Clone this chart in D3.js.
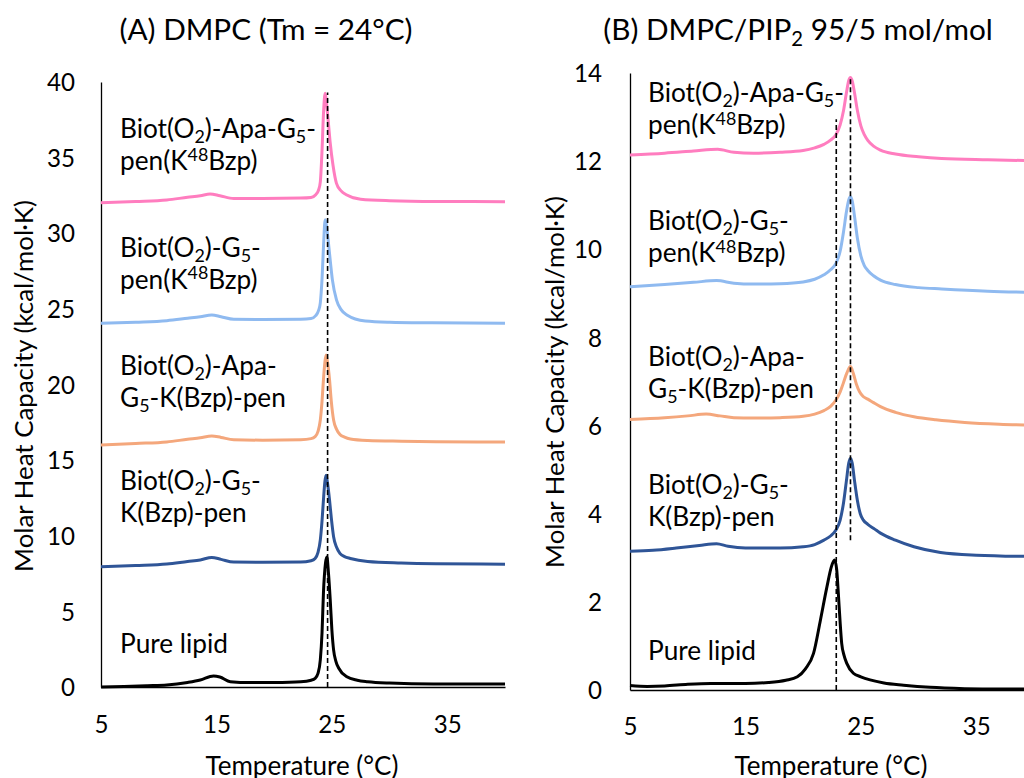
<!DOCTYPE html>
<html><head><meta charset="utf-8">
<script src="https://cdn.jsdelivr.net/npm/d3@7"></script>
<style>html,body{margin:0;padding:0;background:#fff;overflow:hidden}</style>
</head><body>
<svg id="chart" width="1024" height="778"></svg>
<script>
// ---------------- data ----------------
const temperatureTicks = [5, 15, 25, 35];
const aCpTicks = [0, 5, 10, 15, 20, 25, 30, 35, 40];
const bCpTicks = [0, 2, 4, 6, 8, 10, 12, 14];

// Panel A: DMPC  [temperature °C, molar heat capacity kcal/mol·K]
const aPureLipid = [[5,0],[7,0.03],[9,0.08],[10.7,0.13],[12.5,0.3],[13.6,0.46],[14.75,0.73],[15.3,0.66],[16.2,0.35],[17.9,0.29],[20,0.3],[22.3,0.35],[23.2,0.45],[23.55,0.57],[23.8,0.9],[24.0,1.8],[24.15,3.6],[24.27,6.2],[24.45,8.2],[24.57,8.6],[24.7,7.6],[24.86,5.75],[25.0,3.8],[25.15,2.45],[25.35,1.7],[25.6,1.24],[26.3,0.68],[27.2,0.45],[28.1,0.35],[30,0.26],[33.8,0.2],[40,0.2]];
const aG5KBzp = [[5,7.95],[8,8.03],[10.7,8.13],[12.5,8.3],[13.6,8.4],[14.6,8.57],[15.4,8.44],[16.5,8.26],[19,8.25],[22.3,8.26],[23.2,8.35],[23.55,8.5],[23.8,8.9],[24.0,9.72],[24.15,11.0],[24.27,12.36],[24.4,13.6],[24.5,14.0],[24.62,13.5],[24.8,12.36],[24.95,11.2],[25.15,9.94],[25.4,9.25],[25.7,8.84],[26.1,8.62],[26.6,8.5],[28.1,8.3],[31,8.2],[34,8.15],[40,8.12]];
const aApaG5KBzp = [[5,16.0],[8,16.1],[10.7,16.2],[12.5,16.38],[13.6,16.48],[14.6,16.6],[15.4,16.5],[16.5,16.35],[19,16.32],[22.3,16.35],[23.2,16.42],[23.55,16.55],[23.8,16.9],[24.0,17.65],[24.15,18.9],[24.27,20.3],[24.4,21.5],[24.5,21.95],[24.62,21.5],[24.8,20.3],[24.95,18.9],[25.15,17.65],[25.4,17.05],[25.7,16.7],[26.1,16.52],[26.6,16.4],[28.1,16.3],[31,16.25],[34,16.22],[40,16.2]];
const aG5penK48Bzp = [[5,24.05],[8,24.12],[10.7,24.22],[12.5,24.38],[13.6,24.48],[14.6,24.6],[15.4,24.48],[16.5,24.31],[19,24.3],[22.3,24.32],[23.2,24.36],[23.6,24.55],[23.85,24.9],[24.0,25.4],[24.15,27.0],[24.28,29.2],[24.42,30.9],[24.55,30.4],[24.7,29.4],[24.86,28.2],[25.05,26.9],[25.4,25.6],[25.8,24.95],[26.3,24.6],[27.9,24.2],[30,24.12],[33.7,24.08],[40,24.05]];
const aApaG5penK48Bzp = [[5,32.02],[8,32.1],[10.7,32.2],[12.5,32.38],[13.6,32.48],[14.45,32.6],[15.3,32.48],[16.5,32.3],[19,32.3],[22.3,32.33],[23.2,32.37],[23.6,32.55],[23.85,32.86],[24.0,33.4],[24.15,35.5],[24.28,38.0],[24.42,39.25],[24.55,38.5],[24.7,37.3],[24.86,35.95],[25.1,34.5],[25.4,33.3],[25.8,32.8],[26.3,32.53],[27.5,32.25],[30,32.15],[34,32.1],[40,32.09]];

// Panel B: DMPC/PIP2 95/5
const bPureLipid = [[5,0.1],[6.5,0.08],[8,0.09],[10,0.13],[12,0.15],[15,0.15],[17,0.17],[18.5,0.22],[19.5,0.3],[20.2,0.48],[20.9,0.83],[21.5,1.59],[22.06,2.34],[22.45,2.8],[22.72,2.95],[22.9,2.75],[23.05,2.19],[23.2,1.55],[23.34,1.06],[23.55,0.78],[23.77,0.61],[24.35,0.38],[25.0,0.3],[25.8,0.23],[27,0.16],[28.7,0.11],[31,0.06],[34,0.03],[37,0.02],[40,0.02]];
const bG5KBzp = [[5,3.15],[7,3.17],[9,3.22],[11,3.28],[12.5,3.32],[13.5,3.26],[15,3.22],[18,3.22],[20,3.25],[21,3.3],[21.8,3.4],[22.4,3.5],[22.84,3.63],[23.2,3.85],[23.5,4.25],[23.75,4.75],[23.95,5.15],[24.1,5.26],[24.25,5.15],[24.45,4.75],[24.7,4.3],[24.95,4.0],[25.2,3.86],[25.6,3.76],[26.2,3.65],[26.7,3.56],[28,3.4],[29.6,3.25],[31.9,3.12],[35,3.06],[40,3.03]];
const bApaG5KBzp = [[5,6.14],[8,6.18],[10,6.22],[11.6,6.26],[12.8,6.22],[14,6.18],[15.7,6.17],[18,6.18],[20,6.21],[21,6.26],[21.8,6.34],[22.4,6.44],[22.84,6.58],[23.2,6.76],[23.5,6.98],[23.8,7.2],[24.1,7.34],[24.35,7.18],[24.6,6.95],[24.9,6.76],[25.2,6.66],[25.6,6.6],[26.1,6.52],[26.7,6.43],[28,6.3],[29.6,6.2],[31.5,6.13],[34,6.07],[37,6.03],[40,6.01]];
const bG5penK48Bzp = [[5,9.15],[8,9.2],[10.5,9.25],[12.5,9.29],[14,9.23],[15.7,9.21],[18,9.22],[20,9.26],[21,9.32],[21.8,9.42],[22.4,9.54],[22.84,9.68],[23.2,9.95],[23.5,10.4],[23.75,10.85],[23.95,11.12],[24.1,11.19],[24.25,11.1],[24.45,10.75],[24.7,10.25],[25.0,9.85],[25.3,9.63],[25.6,9.52],[26.1,9.4],[26.7,9.3],[28,9.2],[30,9.13],[32,9.1],[36,9.05],[40,9.02]];
const bApaG5penK48Bzp = [[5,12.14],[8,12.18],[10.5,12.23],[12.6,12.27],[14,12.2],[15.7,12.18],[18,12.2],[20,12.24],[21,12.3],[21.8,12.38],[22.4,12.48],[22.84,12.6],[23.2,12.82],[23.5,13.15],[23.75,13.55],[23.95,13.83],[24.1,13.9],[24.25,13.82],[24.45,13.55],[24.7,13.15],[25.0,12.8],[25.3,12.6],[25.6,12.47],[26.1,12.34],[26.7,12.25],[28,12.16],[30,12.1],[32,12.06],[36,12.03],[40,12.01]];

// Tm reference (dashed) lines: [temperature, from Cp, to Cp]
const aTmLines = [[24.63, 0, 39.3]];
const bTmLines = [[22.87, 0, 12.95], [24.1, 3.4, 13.9]];

// Label texts: segments [text, kind]
const labelApaPen = [[["Biot(O"],["2","sub"],[")-Apa-G"],["5","sub"],["-"]],[["pen(K"],["48","sup"],["Bzp)"]]];
const labelG5Pen = [[["Biot(O"],["2","sub"],[")-G"],["5","sub"],["-"]],[["pen(K"],["48","sup"],["Bzp)"]]];
const labelApaK = [[["Biot(O"],["2","sub"],[")-Apa-"]],[["G"],["5","sub"],["-K(Bzp)-pen"]]];
const labelG5K = [[["Biot(O"],["2","sub"],[")-G"],["5","sub"],["-"]],[["K(Bzp)-pen"]]];
const labelPure = [[["Pure lipid"]]];

// ---------------- drawing ----------------
const FONT = "Lato, 'Open Sans', 'DejaVu Sans', sans-serif";
const svg = d3.select("#chart");

function sizeFor(text, targetWidth) {
  const t = svg.append("text").attr("font-family", FONT).attr("font-size", 100).text(text);
  const w = t.node().getComputedTextLength();
  t.remove();
  return 100 * targetWidth / w;
}
const labelFs = sizeFor("Pure lipid", 108);
const titleFs = sizeFor("(A) DMPC (Tm = 24°C)", 293);
const tickFs = Math.min(sizeFor("35", 28), labelFs);
const yTitleFs = sizeFor("Molar Heat Capacity (kcal/mol·K)", 372);
const xTitleFs = sizeFor("Temperature (°C)", 193);

const colors = {pure: "#000000", g5k: "#2F5597", apak: "#F4A77C", g5pen: "#8FBAF0", apapen: "#FF7DBF"};

function richText(g, lines, x, y0, lineGap, fs) {
  lines.forEach((segs, i) => {
    const t = g.append("text").attr("x", x).attr("y", y0 + i * lineGap)
      .attr("font-family", FONT).attr("font-size", fs).attr("fill", "#000");
    let off = 0;
    segs.forEach(([s, kind]) => {
      const target = kind === "sub" ? 0.2 * fs : kind === "sup" ? -0.36 * fs : 0;
      const ts = t.append("tspan").text(s).attr("dy", target - off);
      if (kind) ts.attr("font-size", 0.68 * fs);
      off = target;
    });
  });
}

function panel(cfg) {
  const x = d3.scaleLinear().domain([5, 40]).range(cfg.xRange);
  const y = d3.scaleLinear().domain(cfg.yDomain).range(cfg.yRange);
  const g = svg.append("g");

  // axes
  const xAxis = g.append("g").attr("transform", `translate(0,${y(0)})`)
    .call(d3.axisBottom(x).tickValues(temperatureTicks).tickSize(0).tickSizeOuter(0));
  xAxis.select(".domain").attr("stroke", "#000").attr("stroke-width", 1.3);
  xAxis.selectAll("text").attr("dy", null).attr("y", cfg.xTickY)
    .attr("font-family", FONT).attr("font-size", tickFs).attr("fill", "#000");

  const yAxis = g.append("g").attr("transform", `translate(${x(5)},0)`)
    .call(d3.axisLeft(y).tickValues(cfg.yTicks).tickSize(0).tickSizeOuter(0));
  yAxis.select(".domain").attr("stroke", "#000").attr("stroke-width", 1.3);
  yAxis.selectAll("text").attr("x", -cfg.yTickGap).attr("dy", "0.36em")
    .attr("font-family", FONT).attr("font-size", tickFs).attr("fill", "#000");

  // curves
  const line = d3.line().x(d => x(d[0])).y(d => y(d[1])).curve(d3.curveMonotoneX);
  cfg.series.forEach(s => {
    g.append("path").datum(s.data).attr("d", line).attr("fill", "none")
      .attr("stroke", s.color).attr("stroke-width", 3).attr("stroke-linejoin", "round");
  });

  // Tm dashed lines
  g.selectAll(".tm").data(cfg.tm).join("line")
    .attr("x1", d => x(d[0])).attr("x2", d => x(d[0]))
    .attr("y1", d => y(d[1])).attr("y2", d => y(d[2]))
    .attr("stroke", "#000").attr("stroke-width", 1.6).attr("stroke-dasharray", "5,3");

  // labels
  cfg.labels.forEach(l => richText(g, l.lines, cfg.labelX, l.y, 32, labelFs));

  // titles
  const title = g.append("text").attr("x", cfg.titleX).attr("y", 40).attr("text-anchor", "middle")
    .attr("font-family", FONT).attr("font-size", titleFs).attr("fill", "#000");
  let off = 0;
  cfg.title.forEach(([s, kind]) => {
    const target = kind === "sub" ? 0.2 * titleFs : 0;
    const ts = title.append("tspan").text(s).attr("dy", target - off);
    if (kind) ts.attr("font-size", 0.68 * titleFs);
    off = target;
  });

  g.append("text").attr("transform", `translate(${cfg.yTitleX},${cfg.yTitleY}) rotate(-90)`)
    .attr("text-anchor", "middle").attr("font-family", FONT).attr("font-size", yTitleFs)
    .attr("fill", "#000").text("Molar Heat Capacity (kcal/mol·K)");
  g.append("text").attr("x", cfg.xTitleX).attr("y", 775).attr("text-anchor", "middle")
    .attr("font-family", FONT).attr("font-size", xTitleFs).attr("fill", "#000").text("Temperature (°C)");
}

panel({
  xRange: [101, 505], yDomain: [0, 40], yRange: [687, 82], yTicks: aCpTicks,
  xTickY: 46, yTickGap: 26,
  series: [
    {data: aPureLipid, color: colors.pure},
    {data: aG5KBzp, color: colors.g5k},
    {data: aApaG5KBzp, color: colors.apak},
    {data: aG5penK48Bzp, color: colors.g5pen},
    {data: aApaG5penK48Bzp, color: colors.apapen}
  ],
  tm: aTmLines,
  labelX: 120,
  labels: [
    {lines: labelApaPen, y: 138},
    {lines: labelG5Pen, y: 256.5},
    {lines: labelApaK, y: 375},
    {lines: labelG5K, y: 490},
    {lines: labelPure, y: 653}
  ],
  title: [["(A) DMPC (Tm = 24°C)"]], titleX: 266,
  yTitleX: 33, yTitleY: 386, xTitleX: 302
});

panel({
  xRange: [630, 1034], yDomain: [0, 14], yRange: [690, 73], yTicks: bCpTicks,
  xTickY: 45, yTickGap: 28,
  series: [
    {data: bPureLipid, color: colors.pure},
    {data: bG5KBzp, color: colors.g5k},
    {data: bApaG5KBzp, color: colors.apak},
    {data: bG5penK48Bzp, color: colors.g5pen},
    {data: bApaG5penK48Bzp, color: colors.apapen}
  ],
  tm: bTmLines,
  labelX: 648,
  labels: [
    {lines: labelApaPen, y: 102},
    {lines: labelG5Pen, y: 230},
    {lines: labelApaK, y: 366},
    {lines: labelG5K, y: 494},
    {lines: labelPure, y: 660}
  ],
  title: [["(B) DMPC/PIP"], ["2", "sub"], [" 95/5 mol/mol"]], titleX: 798,
  yTitleX: 564, yTitleY: 382, xTitleX: 831
});
</script>
</body></html>
